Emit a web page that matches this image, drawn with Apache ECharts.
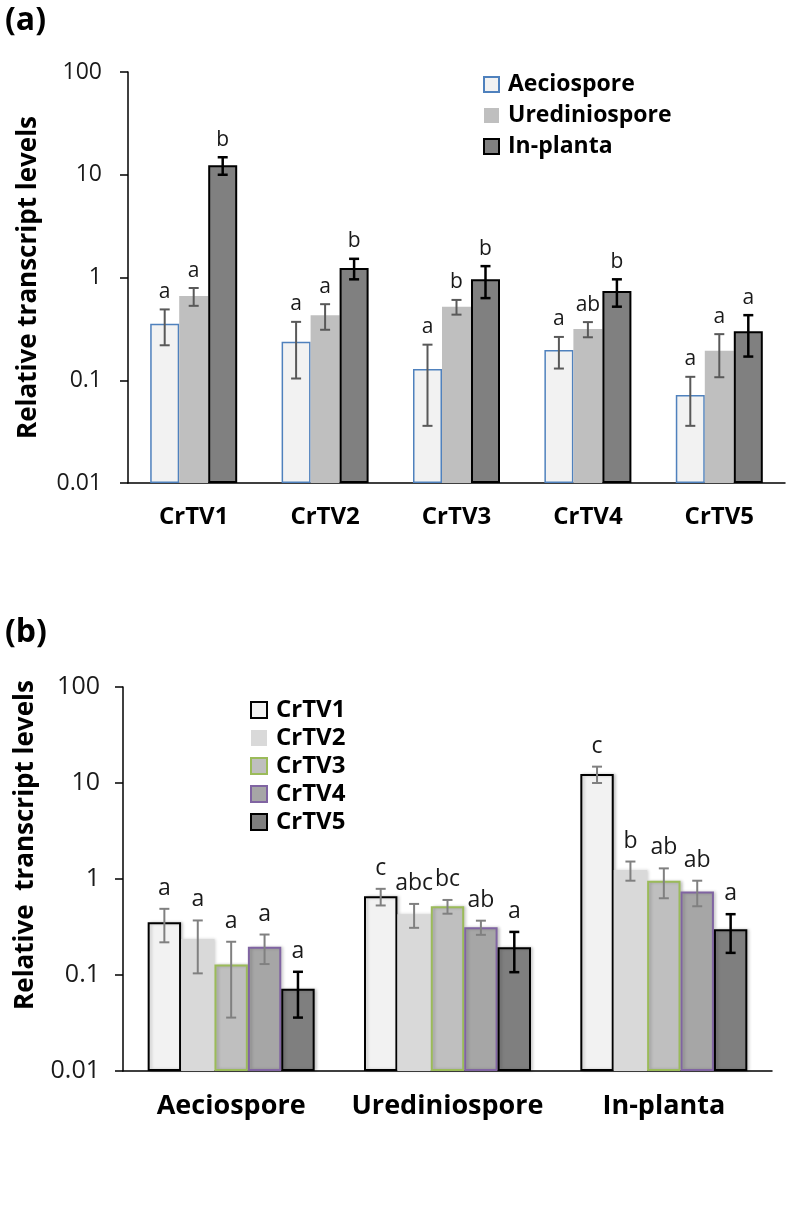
<!DOCTYPE html>
<html>
<head>
<meta charset="utf-8">
<script src="https://cdn.jsdelivr.net/npm/echarts@6/dist/echarts.min.js"></script>
<style>
html,body{margin:0;padding:0;background:#fff;}
#chart{width:787px;height:1206px;}
</style>
</head>
<body>
<div id="chart"></div>
<script>
// ---- data ----
const genes = ['CrTV1', 'CrTV2', 'CrTV3', 'CrTV4', 'CrTV5'];
const stages = ['Aeciospore', 'Urediniospore', 'In-planta'];
const yTickLabels = ['0.01', '0.1', '1', '10', '100'];

// mean relative transcript levels per gene
const aeciospore = [0.354, 0.237, 0.129, 0.197, 0.072];
const urediniospore = [0.66, 0.43, 0.52, 0.315, 0.194];
const inPlanta = [12.4, 1.24, 0.96, 0.74, 0.30];
// error (+/-) per gene
const aeciosporeErr = [0.135, 0.133, 0.093, 0.067, 0.036];
const urediniosporeErr = [0.13, 0.12, 0.085, 0.053, 0.087];
const inPlantaErr = [2.4, 0.28, 0.33, 0.22, 0.13];
// significance letters, panel (a) (per gene, comparing stages)
const lettersA_aeciospore = ['a', 'a', 'a', 'a', 'a'];
const lettersA_urediniospore = ['a', 'a', 'b', 'ab', 'a'];
const lettersA_inPlanta = ['b', 'b', 'b', 'b', 'a'];
// significance letters, panel (b) (per stage, comparing genes)
const lettersB_aeciospore = ['a', 'a', 'a', 'a', 'a'];
const lettersB_urediniospore = ['c', 'abc', 'bc', 'ab', 'a'];
const lettersB_inPlanta = ['c', 'b', 'ab', 'ab', 'a'];

// ---- styling ----
const FONT = "'Open Sans', 'Noto Sans', sans-serif";
const barWA = 29, barWB = 33.4;

const stageValues = [aeciospore, urediniospore, inPlanta];
const stageErrs = [aeciosporeErr, urediniosporeErr, inPlantaErr];
const lettersA = [lettersA_aeciospore, lettersA_urediniospore, lettersA_inPlanta];
const lettersB = [lettersB_aeciospore, lettersB_urediniospore, lettersB_inPlanta];

const stylesA = [
  {color: '#f2f2f2', borderColor: '#4f81bd', borderWidth: 1.5, err: '#595959', errW: 2},
  {color: '#bfbfbf', borderColor: '#bfbfbf', borderWidth: 0, err: '#595959', errW: 2},
  {color: '#808080', borderColor: '#000000', borderWidth: 2, err: '#000000', errW: 2.5}
];
const stylesB = [
  {color: '#f2f2f2', borderColor: '#000000', borderWidth: 2, err: '#808080', errW: 2},
  {color: '#d9d9d9', borderColor: '#d9d9d9', borderWidth: 0, err: '#808080', errW: 2},
  {color: '#bfbfbf', borderColor: '#9bbb59', borderWidth: 2, err: '#808080', errW: 2},
  {color: '#a6a6a6', borderColor: '#8064a2', borderWidth: 2, err: '#808080', errW: 2},
  {color: '#7f7f7f', borderColor: '#000000', borderWidth: 2, err: '#000000', errW: 2.5}
];

function errRenderer(idx, n, barW, st, letters, fontSize, gap) {
  return function (params, api) {
    const ci = api.value(0);
    const v = api.value(1), e = api.value(2);
    const letter = letters[params.dataIndex];
    const base = api.coord([ci, v]);
    const x = base[0] + (idx - (n - 1) / 2) * barW;
    const yHi = api.coord([ci, v + e])[1];
    const yLo = api.coord([ci, Math.max(v - e, 0.0101)])[1];
    const cap = 5;
    const ls = {stroke: st.err, lineWidth: st.errW};
    return {
      type: 'group',
      children: [
        {type: 'line', shape: {x1: x, y1: yHi, x2: x, y2: yLo}, style: ls},
        {type: 'line', shape: {x1: x - cap, y1: yHi, x2: x + cap, y2: yHi}, style: ls},
        {type: 'line', shape: {x1: x - cap, y1: yLo, x2: x + cap, y2: yLo}, style: ls},
        {type: 'text', style: {text: letter, x: x, y: yHi - gap, textAlign: 'center', textVerticalAlign: 'bottom',
          font: fontSize + 'px ' + FONT, fill: '#1a1a1a'}}
      ]
    };
  };
}

const series = [];
// panel (a): categories = genes, series = stages
stages.forEach((s, i) => {
  const st = stylesA[i];
  series.push({
    type: 'bar', name: s, xAxisIndex: 0, yAxisIndex: 0,
    barWidth: barWA, barGap: '0%',
    itemStyle: {color: st.color, borderColor: st.borderColor, borderWidth: st.borderWidth},
    data: stageValues[i]
  });
});
stages.forEach((s, i) => {
  series.push({
    type: 'custom', name: s + '-err', xAxisIndex: 0, yAxisIndex: 0, z: 5,
    renderItem: errRenderer(i, stages.length, barWA, stylesA[i], lettersA[i], 21, 7),
    encode: {x: 0, y: 1},
    data: genes.map((g, gi) => [gi, stageValues[i][gi], stageErrs[i][gi]])
  });
});
// panel (b): categories = stages, series = genes
genes.forEach((g, gi) => {
  const st = stylesB[gi];
  series.push({
    type: 'bar', name: g, xAxisIndex: 1, yAxisIndex: 1,
    barWidth: barWB, barGap: '0%',
    itemStyle: {color: st.color, borderColor: st.borderColor, borderWidth: st.borderWidth,
      shadowColor: 'rgba(0,0,0,0.18)', shadowBlur: 3, shadowOffsetX: 2, shadowOffsetY: 0},
    data: stages.map((s, si) => stageValues[si][gi])
  });
});
genes.forEach((g, gi) => {
  series.push({
    type: 'custom', name: g + '-err', xAxisIndex: 1, yAxisIndex: 1, z: 5,
    renderItem: errRenderer(gi, genes.length, barWB, stylesB[gi], stages.map((s, si) => lettersB[si][gi]), 23, 9),
    encode: {x: 0, y: 1},
    data: stages.map((s, si) => [si, stageValues[si][gi], stageErrs[si][gi]])
  });
});

function yAxisCfg(gridIndex, nameGap, labelMargin, namePadding, labelSize, nameSize) {
  return {
    type: 'log', logBase: 10, gridIndex: gridIndex, min: 0.01, max: 100, startValue: 0.01,
    name: gridIndex === 0 ? 'Relative transcript levels' : 'Relative  transcript levels',
    nameLocation: 'middle', nameGap: nameGap, nameRotate: 90,
    nameTextStyle: {fontFamily: FONT, fontWeight: 'bold', fontSize: nameSize, color: '#000', padding: namePadding},
    axisLine: {show: true, lineStyle: {color: '#000', width: 1.5}},
    axisTick: {show: true, length: 8, lineStyle: {color: '#000', width: 1.5}},
    splitLine: {show: false},
    minorTick: {show: false},
    axisLabel: {fontFamily: FONT, fontSize: labelSize, color: '#1a1a1a', margin: labelMargin,
      formatter: v => yTickLabels[Math.round(Math.log10(v)) + 2]}
  };
}
function xAxisCfg(gridIndex, cats, fontSize, margin) {
  return {
    type: 'category', gridIndex: gridIndex, data: cats,
    axisLine: {show: true, lineStyle: {color: '#000', width: 1.5}},
    axisTick: {show: false},
    axisLabel: {interval: 0, hideOverlap: false, fontFamily: FONT, fontWeight: 'bold', fontSize: fontSize, color: '#000', margin: margin}
  };
}

const option = {
  animation: false,
  backgroundColor: '#fff',
  title: [
    {text: '(a)', left: 0, top: 0, textStyle: {fontFamily: FONT, fontWeight: 'bold', fontSize: 32, color: '#000'}},
    {text: '(b)', left: 0, top: 612, textStyle: {fontFamily: FONT, fontWeight: 'bold', fontSize: 32, color: '#000'}}
  ],
  legend: [
    {data: stages, orient: 'vertical', left: 478, top: 68, itemWidth: 15, itemHeight: 15, itemGap: 8,
      icon: 'rect',
      textStyle: {fontFamily: FONT, fontWeight: 'bold', fontSize: 23, color: '#000', padding: [0, 0, 0, 4]}},
    {data: genes, orient: 'vertical', left: 245, top: 693, itemWidth: 16, itemHeight: 16, itemGap: 4,
      icon: 'rect',
      textStyle: {fontFamily: FONT, fontWeight: 'bold', fontSize: 24, color: '#000', padding: [0, 0, 0, 4]}}
  ],
  grid: [
    {left: 128, right: 2, top: 72, bottom: 723, containLabel: false},
    {left: 123, right: 15, top: 687, bottom: 135, containLabel: false}
  ],
  xAxis: [xAxisCfg(0, genes, 24, 22), xAxisCfg(1, stages, 27, 22)],
  yAxis: [yAxisCfg(0, 86, 26, [0, 0, 0, 0], 23, 26), yAxisCfg(1, 84, 23, [0, 0, 0, 68], 25, 26)],
  series: series
};

const chart = echarts.init(document.getElementById('chart'), null, {renderer: 'canvas'});
chart.setOption(option);
</script>
</body>
</html>
